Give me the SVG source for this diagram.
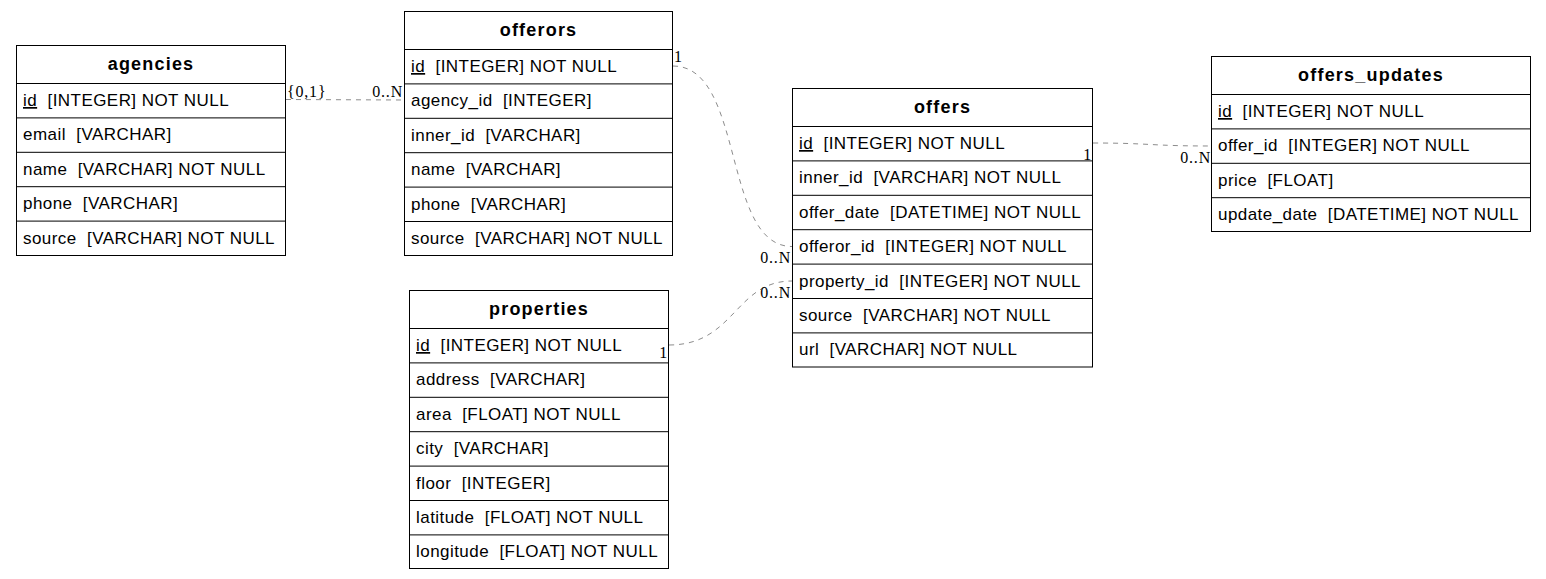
<svg xmlns="http://www.w3.org/2000/svg" width="1546" height="579" viewBox="0 0 1546 579">
<style>
.box{fill:#fff;stroke:#000;stroke-width:1}
.sep{stroke:#000;stroke-width:1}
.h{font-family:"Liberation Sans",Arial,sans-serif;font-size:18px;font-weight:bold;letter-spacing:1.2px;text-anchor:middle;fill:#000}
.f{font-family:"Liberation Sans",Arial,sans-serif;font-size:17px;letter-spacing:0.45px;fill:#000}
.u{text-decoration:underline}
.c{fill:none;stroke:#8c8c8c;stroke-width:1;stroke-dasharray:5,5}
.l{font-family:"Liberation Serif","Times New Roman",serif;font-size:16px;letter-spacing:0.8px;fill:#000}
.r{text-anchor:end}
</style>
<rect width="1546" height="579" fill="#fff"/>
<g id="agencies">
<rect class="box" x="16.5" y="45.5" width="269" height="210"/>
<path class="sep" d="M16.5,83.5H285.5M16.5,117.9H285.5M16.5,152.3H285.5M16.5,186.7H285.5M16.5,221.1H285.5"/>
<text class="h" x="151" y="70">agencies</text>
<text class="f" x="23" y="106" xml:space="preserve"><tspan class="u">id</tspan>  [INTEGER] NOT NULL</text>
<text class="f" x="23" y="140.4" xml:space="preserve">email  [VARCHAR]</text>
<text class="f" x="23" y="174.8" xml:space="preserve">name  [VARCHAR] NOT NULL</text>
<text class="f" x="23" y="209.2" xml:space="preserve">phone  [VARCHAR]</text>
<text class="f" x="23" y="243.6" xml:space="preserve">source  [VARCHAR] NOT NULL</text>
</g>
<g id="offerors">
<rect class="box" x="404.5" y="11.5" width="268" height="244"/>
<path class="sep" d="M404.5,49.5H672.5M404.5,83.9H672.5M404.5,118.3H672.5M404.5,152.7H672.5M404.5,187.1H672.5M404.5,221.5H672.5"/>
<text class="h" x="538.5" y="36">offerors</text>
<text class="f" x="411" y="72" xml:space="preserve"><tspan class="u">id</tspan>  [INTEGER] NOT NULL</text>
<text class="f" x="411" y="106.4" xml:space="preserve">agency_id  [INTEGER]</text>
<text class="f" x="411" y="140.8" xml:space="preserve">inner_id  [VARCHAR]</text>
<text class="f" x="411" y="175.2" xml:space="preserve">name  [VARCHAR]</text>
<text class="f" x="411" y="209.6" xml:space="preserve">phone  [VARCHAR]</text>
<text class="f" x="411" y="244" xml:space="preserve">source  [VARCHAR] NOT NULL</text>
</g>
<g id="properties">
<rect class="box" x="409.5" y="290.5" width="259" height="278"/>
<path class="sep" d="M409.5,328.5H668.5M409.5,362.9H668.5M409.5,397.3H668.5M409.5,431.7H668.5M409.5,466.1H668.5M409.5,500.5H668.5M409.5,534.9H668.5"/>
<text class="h" x="539" y="315">properties</text>
<text class="f" x="416" y="351" xml:space="preserve"><tspan class="u">id</tspan>  [INTEGER] NOT NULL</text>
<text class="f" x="416" y="385.4" xml:space="preserve">address  [VARCHAR]</text>
<text class="f" x="416" y="419.8" xml:space="preserve">area  [FLOAT] NOT NULL</text>
<text class="f" x="416" y="454.2" xml:space="preserve">city  [VARCHAR]</text>
<text class="f" x="416" y="488.6" xml:space="preserve">floor  [INTEGER]</text>
<text class="f" x="416" y="523" xml:space="preserve">latitude  [FLOAT] NOT NULL</text>
<text class="f" x="416" y="557.4" xml:space="preserve">longitude  [FLOAT] NOT NULL</text>
</g>
<g id="offers">
<rect class="box" x="792.5" y="88.5" width="300" height="278.5"/>
<path class="sep" d="M792.5,126.5H1092.5M792.5,160.9H1092.5M792.5,195.3H1092.5M792.5,229.7H1092.5M792.5,264.1H1092.5M792.5,298.5H1092.5M792.5,332.9H1092.5"/>
<text class="h" x="942.5" y="113">offers</text>
<text class="f" x="799" y="149" xml:space="preserve"><tspan class="u">id</tspan>  [INTEGER] NOT NULL</text>
<text class="f" x="799" y="183.4" xml:space="preserve">inner_id  [VARCHAR] NOT NULL</text>
<text class="f" x="799" y="217.8" xml:space="preserve">offer_date  [DATETIME] NOT NULL</text>
<text class="f" x="799" y="252.2" xml:space="preserve">offeror_id  [INTEGER] NOT NULL</text>
<text class="f" x="799" y="286.6" xml:space="preserve">property_id  [INTEGER] NOT NULL</text>
<text class="f" x="799" y="321" xml:space="preserve">source  [VARCHAR] NOT NULL</text>
<text class="f" x="799" y="355.4" xml:space="preserve">url  [VARCHAR] NOT NULL</text>
</g>
<g id="offers_updates">
<rect class="box" x="1211.5" y="56.5" width="319" height="175"/>
<path class="sep" d="M1211.5,94.5H1530.5M1211.5,128.9H1530.5M1211.5,163.3H1530.5M1211.5,197.7H1530.5"/>
<text class="h" x="1371" y="81">offers_updates</text>
<text class="f" x="1218" y="117" xml:space="preserve"><tspan class="u">id</tspan>  [INTEGER] NOT NULL</text>
<text class="f" x="1218" y="151.4" xml:space="preserve">offer_id  [INTEGER] NOT NULL</text>
<text class="f" x="1218" y="185.8" xml:space="preserve">price  [FLOAT]</text>
<text class="f" x="1218" y="220.2" xml:space="preserve">update_date  [DATETIME] NOT NULL</text>
</g>
<g id="connectors">
<path class="c" d="M286,99.5 L404,100"/>
<path class="c" d="M673,66 C745,66 722,246.5 792,246.5"/>
<path class="c" d="M669,345 C735,345 735,281 792,281"/>
<path class="c" d="M1093,143 C1150,143 1150,146 1211,146"/>
<text class="l" x="287" y="97">{0,1}</text>
<text class="l r" x="403" y="97">0..N</text>
<text class="l" x="674" y="62">1</text>
<text class="l r" x="791" y="263">0..N</text>
<text class="l r" x="668" y="358">1</text>
<text class="l r" x="791" y="298">0..N</text>
<text class="l r" x="1092" y="160">1</text>
<text class="l r" x="1211" y="163">0..N</text>
</g>
</svg>
